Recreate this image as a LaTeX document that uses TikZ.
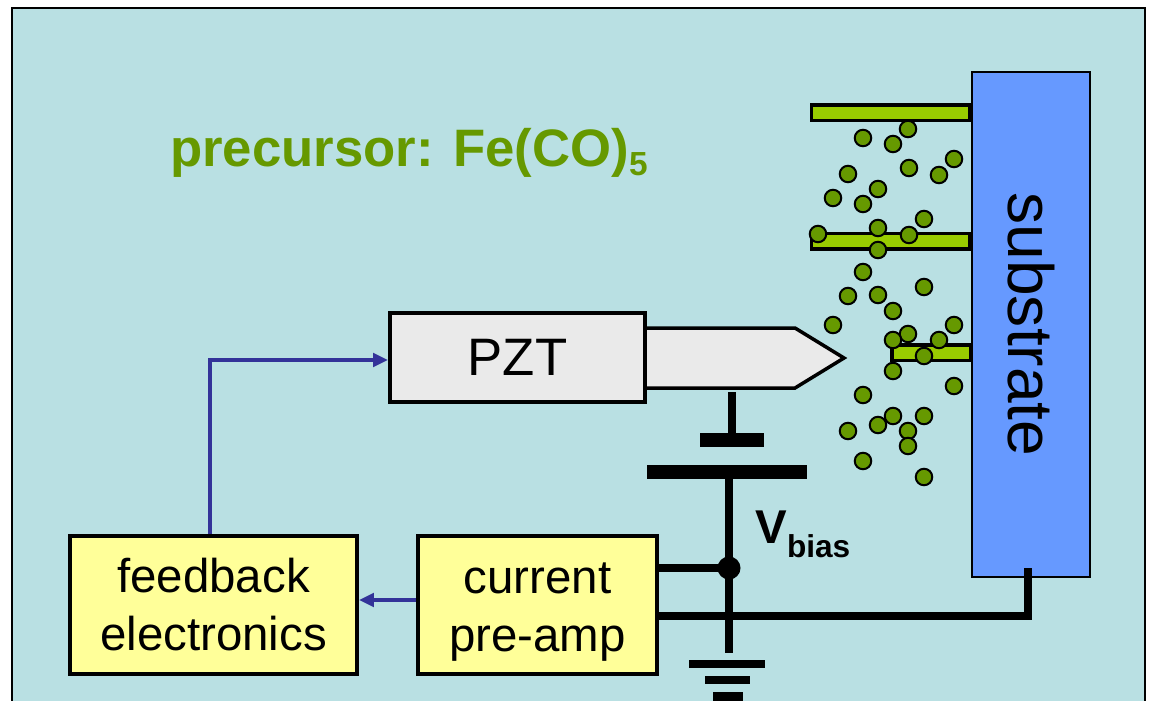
\documentclass[tikz,border=0pt]{standalone}
\usepackage{fontspec}
\setmainfont{Liberation Sans}
\usetikzlibrary{arrows.meta}
\definecolor{panel}{RGB}{185,224,227}
\definecolor{moss}{RGB}{102,153,0}
\definecolor{lime}{RGB}{153,204,0}
\definecolor{sky}{RGB}{102,153,255}
\definecolor{cream}{RGB}{255,255,153}
\definecolor{pale}{RGB}{234,234,234}
\definecolor{sig}{RGB}{51,51,153}

\begin{document}
\begin{tikzpicture}[x=0.02cm,y=-0.02cm,
    elec/.style={rectangle,draw=black,fill=cream,line width=0.08cm,align=center,
                 font=\fontsize{27}{33}\selectfont,minimum height=2.76cm,inner sep=0pt},
    bar/.style={rectangle,draw=black,fill=lime,line width=0.07cm,minimum height=0.31cm,inner sep=0pt},
    gas/.style={circle,draw=black,fill=moss,line width=0.04cm,minimum size=0.33cm,inner sep=0pt},
    plate/.style={rectangle,fill=black,inner sep=0pt},
    wire/.style={line width=0.16cm,black},
    feed/.style={-{Triangle[length=0.30cm,width=0.27cm]},line width=0.07cm,sig}]

    \useasboundingbox (0,0) rectangle (1149,700);
    \clip (0,0) rectangle (1149,700);
    \draw[fill=panel,line width=0.05cm] (12,8) rectangle (1145,730);

    \node[font=\fontsize{30}{36}\selectfont\bfseries,moss,anchor=base west] (title) at (164,166)
      {precursor: Fe(CO)\raisebox{-5.5pt}{\fontsize{19}{22}\selectfont 5}};

    \node[bar,minimum width=3.17cm] (b1) at (890.5,112.5) {};
    \node[bar,minimum width=3.17cm] (b2) at (890.5,241) {};
    \node[bar,minimum width=1.57cm] (b3) at (931,352.5) {};
    \node[rectangle,draw=black,fill=sky,line width=0.04cm,rotate=-90,inner sep=0pt,
          minimum width=10.1cm,minimum height=2.36cm,
          font=\fontsize{36.5}{40}\selectfont] (substrate) at (1031,324.5) {substrate};

    \node[gas] (g1) at (863,138) {};  \node[gas] (g2) at (893,144) {};  \node[gas] (g3) at (908,129) {};
    \node[gas] (g4) at (954,159) {};  \node[gas] (g5) at (909,168) {};  \node[gas] (g6) at (939,175) {};
    \node[gas] (g7) at (848,174) {};  \node[gas] (g8) at (878,189) {};  \node[gas] (g9) at (833,198) {};
    \node[gas] (g10) at (863,204) {}; \node[gas] (g11) at (924,219) {}; \node[gas] (g12) at (878,228) {};
    \node[gas] (g13) at (818,234) {}; \node[gas] (g14) at (909,235) {}; \node[gas] (g15) at (878,250) {};
    \node[gas] (g16) at (863,272) {}; \node[gas] (g17) at (924,287) {}; \node[gas] (g18) at (848,296) {};
    \node[gas] (g19) at (878,295) {}; \node[gas] (g20) at (893,311) {}; \node[gas] (g21) at (833,325) {};
    \node[gas] (g22) at (954,325) {}; \node[gas] (g23) at (908,334) {}; \node[gas] (g24) at (893,340) {};
    \node[gas] (g25) at (939,340) {}; \node[gas] (g26) at (924,356) {}; \node[gas] (g27) at (893,371) {};
    \node[gas] (g28) at (954,386) {}; \node[gas] (g29) at (863,395) {}; \node[gas] (g30) at (893,416) {};
    \node[gas] (g31) at (924,416) {}; \node[gas] (g32) at (878,425) {}; \node[gas] (g33) at (908,431) {};
    \node[gas] (g34) at (848,431) {}; \node[gas] (g35) at (908,446) {}; \node[gas] (g36) at (863,461) {};
    \node[gas] (g37) at (924,477) {};

    % tip and scanner
    \draw[fill=pale,line width=0.07cm] (640,328) -- (795,328) -- (844,358) -- (795,388) -- (640,388) -- cycle;
    \node[rectangle,draw=black,fill=pale,line width=0.08cm,inner sep=0pt,
          minimum width=5.10cm,minimum height=1.78cm,
          font=\fontsize{30}{36}\selectfont] (pzt) at (517.5,357.5) {PZT};

    \node[elec,minimum width=5.74cm] (feedback) at (213.5,605) {feedback\\electronics};
    \node[elec,minimum width=4.78cm] (preamp) at (537.5,605) {\vphantom{f}current\\\smash{pre-amp}};

    % bias circuit
    \coordinate (tipfoot) at (732,392);
    \coordinate (subtie) at (1028,568);
    \node[plate,minimum width=1.28cm,minimum height=0.28cm] (upper) at (732,440) {};
    \node[plate,minimum width=3.2cm,minimum height=0.28cm] (lower) at (727,472) {};
    \node[circle,fill=black,minimum size=0.46cm,inner sep=0pt] (junction) at (729,568) {};
    \node[plate,minimum width=1.52cm,minimum height=0.16cm] (gnd1) at (727,664) {};
    \node[plate,minimum width=0.9cm,minimum height=0.16cm] (gnd2) at (727,680) {};
    \node[plate,minimum width=0.6cm,minimum height=0.3cm] (gnd3) at (728,699) {};
    \coordinate (gndtop) at (729,653);

    \draw[wire] (tipfoot) -- (upper.north -| tipfoot);
    \draw[wire] (lower.south -| junction) -- (gndtop);
    \draw[wire] (preamp.east |- junction) -- (junction.center);
    \draw[wire,line join=miter] (preamp.east |- 0,616) -- (subtie |- 0,616) -- (subtie);

    \draw[feed] (feedback.north -| 210,0) -- (210,360) -- (pzt.west |- 0,360);
    \draw[feed] (preamp.west |- 0,600) -- (feedback.east |- 0,600);

    \node[font=\fontsize{27}{32}\selectfont\bfseries,anchor=base west,inner sep=0pt] (vbias) at (755,543)
      {V\raisebox{-8.5pt}{\fontsize{18}{22}\selectfont bias}};
  \end{tikzpicture}
\end{document}
